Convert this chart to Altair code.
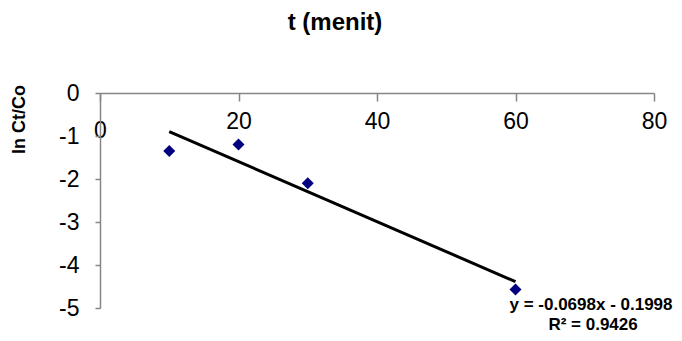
import altair as alt
import pandas as pd

# --- data ---
t_menit = [10, 20, 30, 60]
ln_ct_co = [-1.35, -1.2, -2.1, -4.57]
slope = -0.0698
intercept = -0.1998
trend_t = [10, 60]
eq_lines = ["y = -0.0698x - 0.1998", "R² = 0.9426"]
eq_t = [70.9, 71.2]
eq_v = [-4.93, -5.40]
x_ticks = [0, 20, 40, 60, 80]
y_ticks = [-5, -4, -3, -2, -1, 0]

FONT = "Liberation Sans"
AXIS_GRAY = "#868686"

pts = pd.DataFrame({"t": t_menit, "v": ln_ct_co})
trend = pd.DataFrame({"t": trend_t, "v": [slope * x + intercept for x in trend_t]})
eq = pd.DataFrame({"t": eq_t, "v": eq_v, "label": eq_lines})

W, H = 554, 215

xscale = alt.Scale(domain=[0, 80], nice=False, zero=False)
yscale = alt.Scale(domain=[-5, 0], nice=False, zero=False)

xaxis = alt.Axis(
    orient="bottom", offset=-H, values=x_ticks, grid=False, title=None,
    domainColor=AXIS_GRAY, tickColor=AXIS_GRAY, tickSize=8, domainWidth=1.5, tickWidth=1.5,
    labelFont=FONT, labelFontSize=23, labelColor="black", labelBaseline="top",
    labelPadding={"condition": {"test": "datum.value === 0", "value": 18}, "value": 9},
    labelFlush=False, labelOverlap=False, labelExpr="'' + datum.value",
)
yaxis = alt.Axis(
    orient="left", values=y_ticks, grid=False, title="ln Ct/Co",
    domainColor=AXIS_GRAY, tickColor=AXIS_GRAY, tickSize=5, domainWidth=1.5, tickWidth=1.5,
    labelFont=FONT, labelFontSize=23, labelColor="black", labelPadding=16,
    labelFlush=False, labelOverlap=False, labelExpr="'' + datum.value",
    titleFont=FONT, titleFontSize=18, titleFontWeight="bold", titleColor="black",
    titleX=-81, titleY=26, titleAngle=-90, titleAlign="center", titleBaseline="middle",
)

line = alt.Chart(trend).mark_line(color="black", strokeWidth=3).encode(
    x=alt.X("t:Q", scale=xscale, axis=xaxis),
    y=alt.Y("v:Q", scale=yscale, axis=yaxis),
)
points = alt.Chart(pts).mark_point(shape="diamond", filled=True, color="#000080", size=144, opacity=1).encode(
    x=alt.X("t:Q", scale=xscale),
    y=alt.Y("v:Q", scale=yscale),
)
text = alt.Chart(eq).mark_text(font=FONT, fontSize=17, fontWeight="bold", color="black",
                                 align="center", baseline="middle").encode(
    x=alt.X("t:Q", scale=xscale),
    y=alt.Y("v:Q", scale=yscale),
    text="label:N",
)

chart = alt.layer(line, points, text).properties(
    width=W, height=H,
    background="white",
    title=alt.TitleParams("t (menit)", font=FONT, fontSize=24, fontWeight="bold", color="black",
                          anchor="middle", dx=-42, dy=-43),
    autosize=alt.AutoSizeParams(type="none"),
    padding={"left": 92, "top": 85, "right": 20, "bottom": 25},
).configure_view(stroke="transparent", strokeWidth=0)

chart.save("out.html", embed_options={"renderer": "svg", "actions": False})
